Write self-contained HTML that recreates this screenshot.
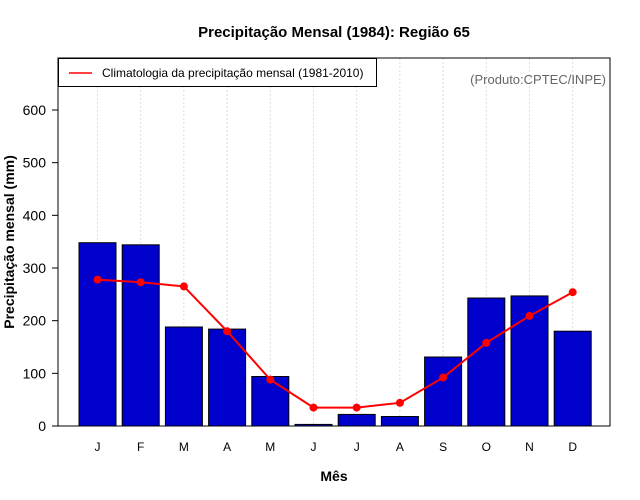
<!DOCTYPE html>
<html><head><meta charset="utf-8"><style>body{margin:0;background:#fff}svg{display:block;font-family:"Liberation Sans",sans-serif}</style></head>
<body>
<svg id="c" width="640" height="500"></svg>
<script>
const months=["J","F","M","A","M","J","J","A","S","O","N","D"];
const observed=[348,344,188,184,94,3,22,18,131,243,247,180];
const climatology=[278,273,265,180,88,35,35,44,92,158,209,254];
const yTicks=[0,100,200,300,400,500,600];
const NS="http://www.w3.org/2000/svg";
const svg=document.getElementById('c');
const L=58,R=610,T=58,B=426;
const x=i=>97.5+i*43.2;
const y=v=>426-v*(316/600);
function mk(tag,attrs,parent){const e=document.createElementNS(NS,tag);for(const k in attrs)e.setAttribute(k,attrs[k]);(parent||svg).appendChild(e);return e;}
// grid
months.forEach((m,i)=>{const g=mk('line',{x1:x(i),x2:x(i),y1:T,y2:B,stroke:'#ddd','stroke-dasharray':'2,2'});

});
// bars
observed.forEach((v,i)=>{const r=mk('rect',{x:x(i)-18.5,y:y(v),width:37,height:B-y(v),fill:'#0000cd',stroke:'#000','stroke-width':1});

});
// line
const pl=mk('polyline',{points:climatology.map((v,i)=>x(i)+','+y(v)).join(' '),fill:'none',stroke:'#f00','stroke-width':2});


climatology.forEach((v,i)=>{const c=mk('circle',{cx:x(i),cy:y(v),r:4,fill:'#f00'});

});
// box
const bx=mk('rect',{x:L,y:T,width:R-L,height:B-T,fill:'none',stroke:'#000'});


// y ticks
yTicks.forEach(v=>{mk('line',{x1:L-6,x2:L,y1:y(v),y2:y(v),stroke:'#000'});
const t=mk('text',{x:L-12,y:y(v)+5,'text-anchor':'end','font-size':14});t.textContent=v;

});
mk('line',{x1:L,x2:L,y1:y(0),y2:y(600),stroke:'#000'});
months.forEach((m,i)=>{const t=mk('text',{x:x(i),y:451,'text-anchor':'middle','font-size':12});t.textContent=m;

});
</script>
<svg width="640" height="500" style="position:absolute;left:0;top:0">
<text x="334" y="37" text-anchor="middle" font-size="15" font-weight="bold">Precipitação Mensal (1984): Região 65</text>
<text x="334" y="481" text-anchor="middle" font-size="14" font-weight="bold">Mês</text>
<text transform="translate(14,242) rotate(-90)" text-anchor="middle" font-size="14" font-weight="bold">Precipitação mensal (mm)</text>
<text x="606" y="84" text-anchor="end" font-size="13" fill="#666">(Produto:CPTEC/INPE)</text>
<g>
<rect x="58.5" y="58.5" width="318" height="28" fill="#fff" stroke="#000"/>
<line x1="69" x2="92" y1="73" y2="73" stroke="#f00" stroke-width="1.5"/>
<text x="102" y="77" font-size="12">Climatologia da precipitação mensal (1981-2010)</text>
</g>
</svg>
</body></html>
